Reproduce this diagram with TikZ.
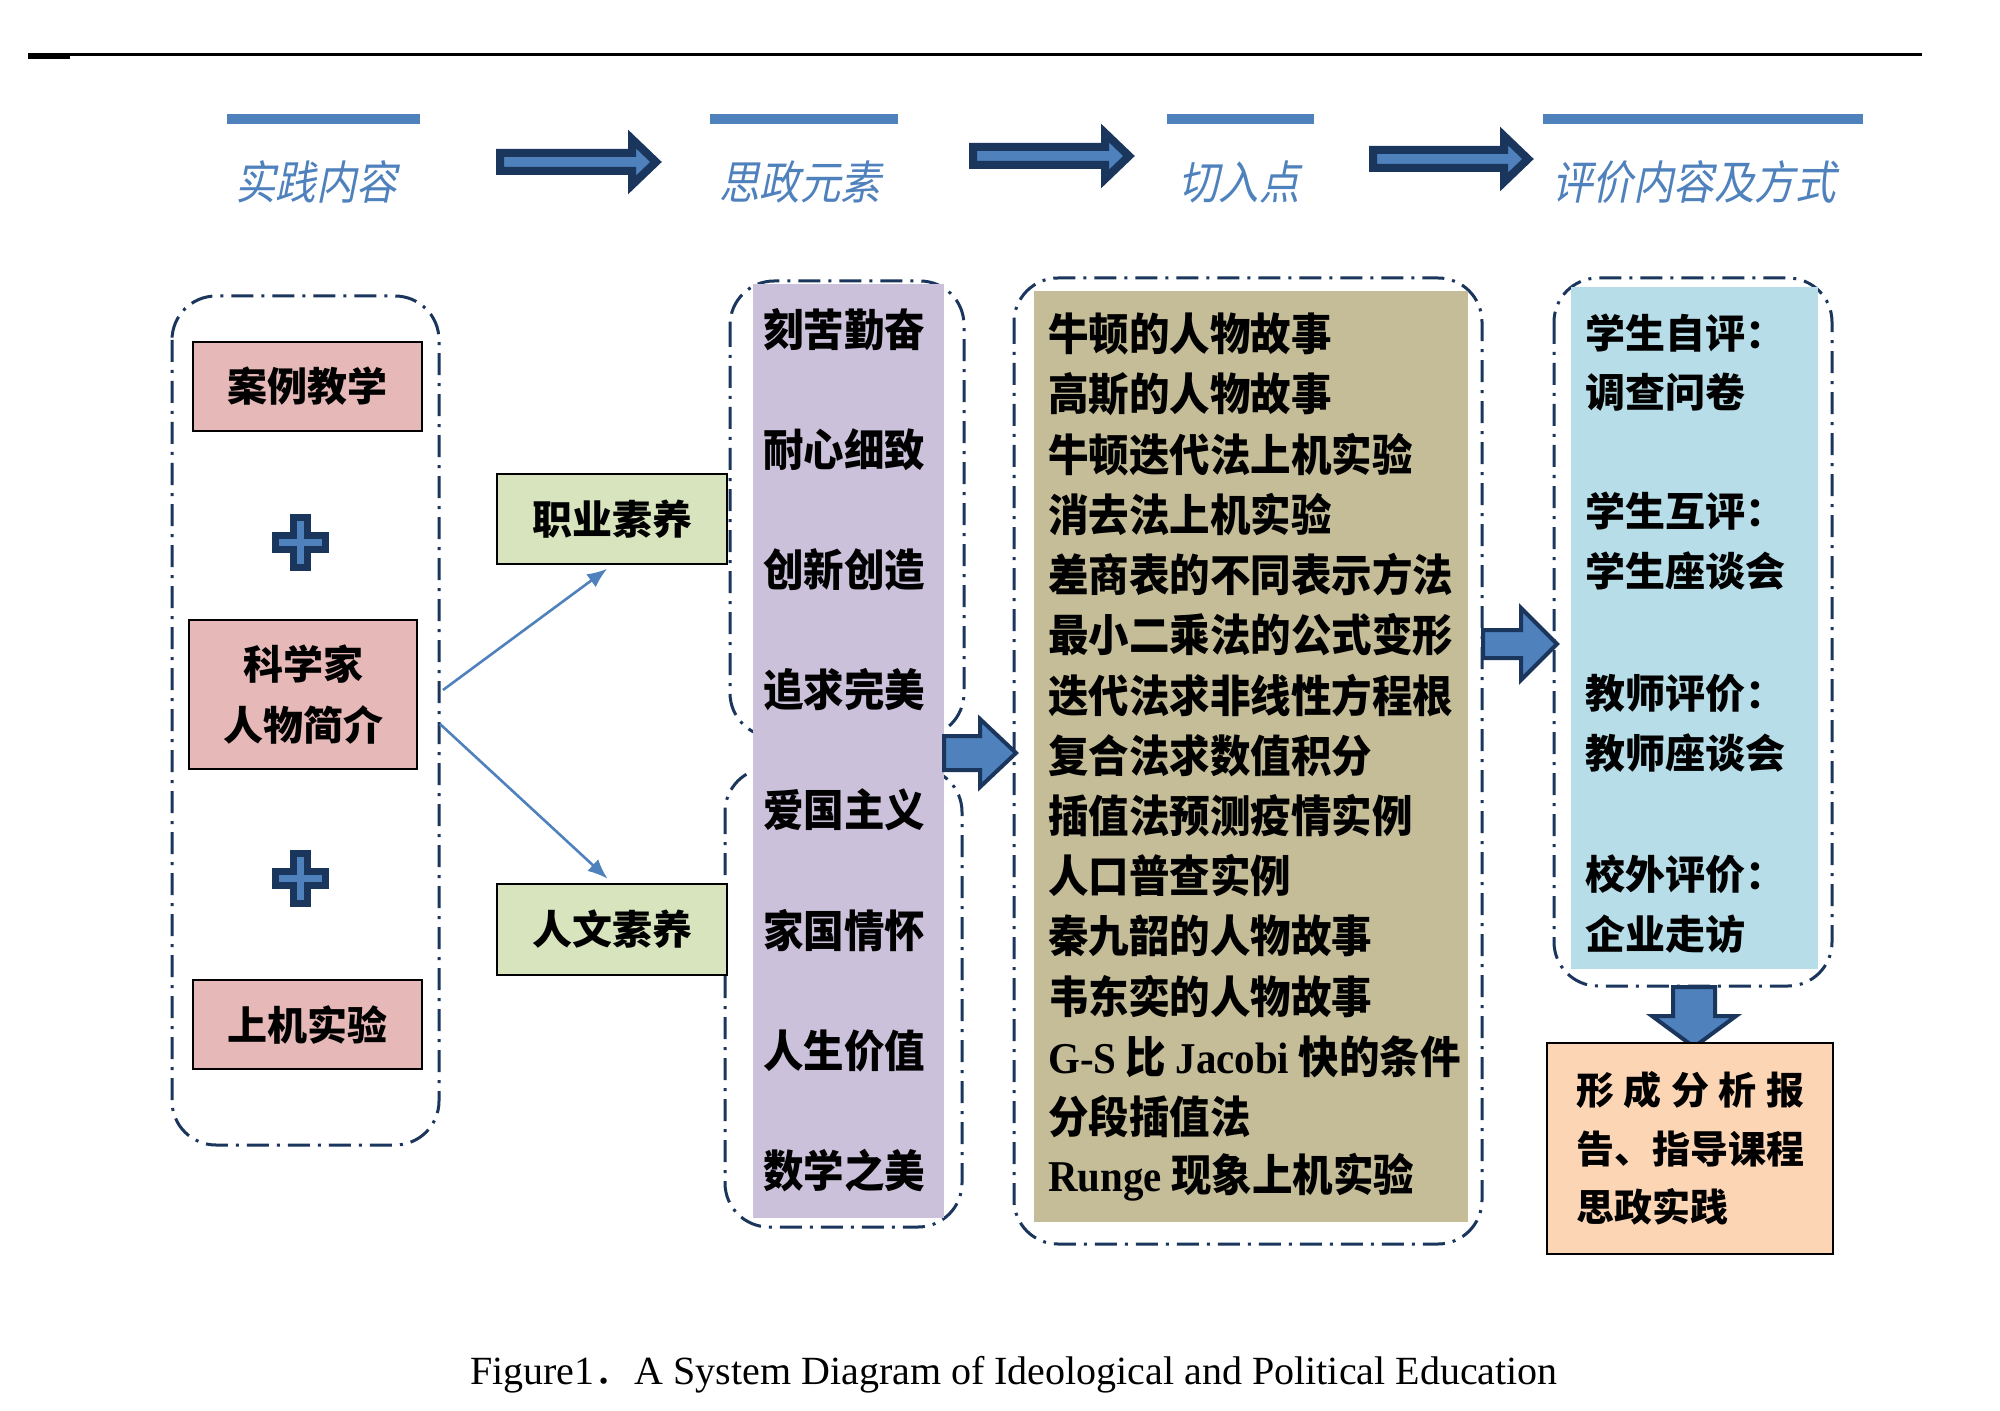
\documentclass[tikz,border=0pt]{standalone}
\usepackage{fontspec}
\setmainfont{Liberation Serif}
\newfontfamily\cjk{Noto Sans CJK SC}
\newfontfamily\cjkhead{Noto Sans CJK SC}[FakeSlant=0.2,FakeStretch=0.88]
\newfontfamily\cjkcond{Noto Sans CJK SC}[FakeStretch=0.92]
\newfontfamily\latb{Liberation Serif}[UprightFont=* Bold,BoldFont=* Bold,FakeStretch=0.93]
\usetikzlibrary{calc,arrows.meta}
\definecolor{headc}{HTML}{4F81BD}
\definecolor{navyc}{HTML}{1B365D}
\definecolor{pinkc}{HTML}{E6B9B8}
\definecolor{greenc}{HTML}{D7E4BD}
\definecolor{purplec}{HTML}{CCC1DA}
\definecolor{olivec}{HTML}{C4BD97}
\definecolor{lbluec}{HTML}{B7DEE8}
\definecolor{orangec}{HTML}{FCD5B5}
\tikzset{
  bx/.style={draw=black,line width=1.2pt,inner sep=0pt,align=center,font=\cjk\bfseries\fontsize{20pt}{30.5pt}\selectfont},
  pinkbox/.style={bx,fill=pinkc,minimum width=114.5pt,minimum height=44.5pt},
  greenbox/.style={bx,fill=greenc,minimum width=115pt,minimum height=45pt},
  dashbox/.style={draw=navyc,line width=1.5pt,rounded corners=22pt,dash pattern=on 11pt off 4pt on 1.5pt off 4pt},
  colfill/.style={draw=none,inner sep=0pt},
  item/.style={anchor=west,inner sep=0pt,font=\cjkcond\bfseries\fontsize{22pt}{26pt}\selectfont},
  evitem/.style={anchor=west,inner sep=0pt,font=\cjk\bfseries\fontsize{20pt}{24pt}\selectfont},
  head/.style={text=headc,inner sep=0pt,font=\cjkhead\fontsize{23pt}{27pt}\selectfont},
  hdarr/.style={fill=headc,draw=navyc,line width=4pt,line join=miter},
  plusst/.style={fill=headc,draw=navyc,line width=3.5pt,line join=miter},
  blockarr/.style={fill=headc,draw=navyc,line width=2pt,line join=miter},
  thinarr/.style={draw=headc,line width=1.3pt,-{Latex[length=10pt,width=8pt]}},
}
\newcommand\hdarrow[3]{\draw[hdarr] (#1+4,#3-9) -- (#2-30,#3-9) -- (#2-30,#3-23) -- (#2-6,#3) -- (#2-30,#3+23) -- (#2-30,#3+9) -- (#1+4,#3+9) -- cycle;}
\newcommand\plusshape[2]{\draw[plusst] (#1-25,#2-7) -- (#1-7,#2-7) -- (#1-7,#2-25) -- (#1+7,#2-25) -- (#1+7,#2-7) -- (#1+25,#2-7) -- (#1+25,#2+7) -- (#1+7,#2+7) -- (#1+7,#2+25) -- (#1-7,#2+25) -- (#1-7,#2+7) -- (#1-25,#2+7) -- cycle;}
\begin{document}
\begin{tikzpicture}[x=0.5pt,y=-0.5pt]
\useasboundingbox[fill=white] (0,0) rectangle (2000,1411);
% top rule
\draw[line width=1.5pt] (28,55) -- (1922,55);
\draw[line width=2pt] (28,57) -- (70,57);
% header bars
\fill[headc] (227,114) rectangle (420,124);
\fill[headc] (710,114) rectangle (898,124);
\fill[headc] (1167,114) rectangle (1314,124);
\fill[headc] (1543,114) rectangle (1863,124);
% headings
\node[head] (h1) at (316,182) {实践内容};
\node[head] (h2) at (800,182) {思政元素};
\node[head] (h3) at (1239,182) {切入点};
\node[head] (h4) at (1694,182) {评价内容及方式};
% header arrows
\hdarrow{496}{662}{162}
\hdarrow{969}{1135}{156}
\hdarrow{1369}{1534}{159}
% dashed frames (behind the fills)
\draw[dashbox] (172,296) rectangle (439,1145);
\draw[dashbox] (730,281) rectangle (964,737);
\draw[dashbox] (725,768) rectangle (962,1227);
\draw[dashbox] (1014,278) rectangle (1482,1244);
\draw[dashbox] (1554,278) rectangle (1832,986);
% column fills
\node[colfill,fill=purplec,minimum width=95.5pt,minimum height=467pt] (purplecol) at (848.5,751) {};
\node[colfill,fill=olivec,minimum width=217pt,minimum height=465.5pt] (olivecol) at (1251,756.5) {};
\node[colfill,fill=lbluec,minimum width=123.5pt,minimum height=341pt] (bluecol) at (1694.5,628) {};
% left column
\node[pinkbox] (anli) at (307.5,386.5) {案例教学};
\plusshape{300}{542}
\node[pinkbox,minimum width=114pt,minimum height=74.5pt] (kxj) at (303,694.5) {科学家\\人物简介};
\plusshape{300}{878}
\node[pinkbox] (sjsy) at (307.5,1024.5) {上机实验};
% green boxes
\node[greenbox] (zy) at (612,519) {职业素养};
\node[greenbox,minimum height=45.5pt] (rw) at (612,929.5) {人文素养};
\coordinate (s1) at (443,690);
\coordinate (s2) at (440,724);
\draw[thinarr,shorten >=3pt] (s1) -- (zy.south);
\draw[thinarr,shorten >=3pt] (s2) -- (rw.north);
% purple items
\node[item] (p1) at (763,330) {刻苦勤奋};
\node[item] (p2) at (763,450) {耐心细致};
\node[item] (p3) at (763,570) {创新创造};
\node[item] (p4) at (763,690) {追求完美};
\node[item] (p5) at (763,810) {爱国主义};
\node[item] (p6) at (763,931) {家国情怀};
\node[item] (p7) at (763,1051) {人生价值};
\node[item] (p8) at (763,1171) {数学之美};
% olive items
\node[item] (o1) at (1048,334) {牛顿的人物故事};
\node[item] (o2) at (1048,394.2) {高斯的人物故事};
\node[item] (o3) at (1048,454.4) {牛顿迭代法上机实验};
\node[item] (o4) at (1048,514.6) {消去法上机实验};
\node[item] (o5) at (1048,574.8) {差商表的不同表示方法};
\node[item] (o6) at (1048,635) {最小二乘法的公式变形};
\node[item] (o7) at (1048,695.2) {迭代法求非线性方程根};
\node[item] (o8) at (1048,755.4) {复合法求数值积分};
\node[item] (o9) at (1048,815.6) {插值法预测疫情实例};
\node[item] (o10) at (1048,875.8) {人口普查实例};
\node[item] (o11) at (1048,936) {秦九韶的人物故事};
\node[item] (o12) at (1048,996.2) {韦东奕的人物故事};
\node[item] (o13) at (1048,1056.4) {{\latb G-S} 比 {\latb Jacobi} 快的条件};
\node[item] (o14) at (1048,1116.6) {分段插值法};
\node[item] (o15) at (1048,1176.8) {{\latb Runge} 现象上机实验};
% evaluation items
\node[evitem] (e1) at (1585,333) {学生自评：};
\node[evitem] (e2) at (1585,392) {调查问卷};
\node[evitem] (e3) at (1585,511) {学生互评：};
\node[evitem] (e4) at (1585,571) {学生座谈会};
\node[evitem] (e5) at (1585,693) {教师评价：};
\node[evitem] (e6) at (1585,753) {教师座谈会};
\node[evitem] (e7) at (1585,874) {校外评价：};
\node[evitem] (e8) at (1585,934) {企业走访};
% block arrows
\draw[blockarr] (944,736) -- (980,736) -- (980,719) -- (1016,753) -- (980,787) -- (980,770) -- (944,770) -- cycle;
\draw[blockarr] (1483,630) -- (1521,630) -- (1521,608) -- (1557,644) -- (1521,680) -- (1521,658) -- (1483,658) -- cycle;
\draw[blockarr] (1673,987) -- (1715,987) -- (1715,1016) -- (1736,1016) -- (1694,1047) -- (1652,1016) -- (1673,1016) -- cycle;
% result box
\node[bx,fill=orangec,minimum width=143pt,minimum height=105.5pt,text width=114pt,align=left,font=\cjk\bfseries\fontsize{19pt}{29.3pt}\selectfont] (res) at (1690,1148.5)
  {\hbox to 114pt{形\hfil 成\hfil 分\hfil 析\hfil 报}\\告、指导课程\\思政实践};
% caption
\node[inner sep=0pt,font=\fontsize{20pt}{24pt}\selectfont] (cap) at (1014,1375) {Figure1{\cjk ．}A System Diagram of Ideological and Political Education};
\end{tikzpicture}
\end{document}
